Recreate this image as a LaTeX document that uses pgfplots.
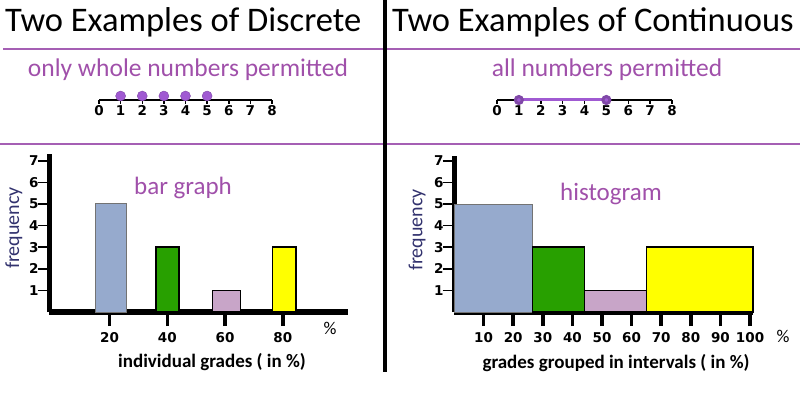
\documentclass[border=0pt]{standalone}
\usepackage{pgfplots}
\pgfplotsset{compat=1.18}
\usepackage{fontspec}
\setmainfont{Carlito}
\newfontfamily\djv{DejaVu Sans}
\newcommand\numfont{\djv\bfseries\fontsize{13.5bp}{15bp}\selectfont}
\definecolor{sub}{RGB}{160,80,170}
\definecolor{rulec}{RGB}{165,95,180}
\definecolor{dot}{RGB}{160,90,210}
\definecolor{barblue}{RGB}{150,170,205}
\definecolor{bargreen}{RGB}{40,160,0}
\definecolor{barpink}{RGB}{200,165,200}
\definecolor{baryellow}{RGB}{255,255,0}
\definecolor{freq}{RGB}{50,50,110}
\definecolor{tickc}{RGB}{0,0,0}
\pgfplotsset{every axis/.append style={/pgf/number format/assume math mode=true}}
\begin{document}
\begin{tikzpicture}
\useasboundingbox (0bp,0bp) rectangle (800bp,394bp);
% bar graph
\begin{axis}[at={(49bp,82bp)}, anchor=south west, scale only axis, width=299bp, height=157.7bp,
  xmin=-1, xmax=102.6, ymin=0, ymax=7.3, axis lines=left,
  axis line style={-, line width=5bp, black},
  xtick={20,40,60,80}, ytick={1,...,7}, tick align=outside, major tick length=14bp,
  xtick style={line width=3.5bp, tickc}, ytick style={line width=1.5bp, tickc, xshift=2.5bp},
  ticklabel style={font=\numfont}, xticklabel style={yshift=-3bp}, yticklabel style={xshift=7bp}, clip=false]
\addplot[ybar, bar width=10.7, bar shift=0pt, fill=barblue, draw=black!55, line width=1bp] coordinates {(20.5,5)};
\addplot[ybar, bar width=8, bar shift=0pt, fill=bargreen, draw=black, line width=1.5bp] coordinates {(40,3)};
\addplot[ybar, bar width=9.7, bar shift=0pt, fill=barpink, draw=black, line width=1.5bp] coordinates {(60.5,1)};
\addplot[ybar, bar width=8, bar shift=0pt, fill=baryellow, draw=black, line width=1.5bp] coordinates {(80.5,3)};
\end{axis}
% histogram
\begin{axis}[at={(454bp,82bp)}, anchor=south west, scale only axis, width=299bp, height=155.5bp,
  xmin=0, xmax=101, ymin=0, ymax=7.2, axis lines=left,
  axis line style={-, line width=5bp, black},
  xtick={10,20,...,100}, ytick={1,...,7}, tick align=outside, major tick length=14bp,
  xtick style={line width=3.5bp, tickc}, ytick style={line width=1.5bp, tickc, xshift=2.5bp},
  ticklabel style={font=\numfont}, xticklabel style={yshift=-3bp}, yticklabel style={xshift=7bp}, clip=false]
\addplot[const plot, fill=barblue, draw=black!55, line width=1bp] coordinates {(0,5)(26.5,5)} \closedcycle;
\addplot[const plot, fill=bargreen, draw=black, line width=1.5bp] coordinates {(26.5,3)(44,3)} \closedcycle;
\addplot[const plot, fill=barpink, draw=black, line width=1.5bp] coordinates {(44,1)(65,1)} \closedcycle;
\addplot[const plot, fill=baryellow, draw=black, line width=1.5bp] coordinates {(65,3)(101,3)} \closedcycle;
\end{axis}
% number line left
\begin{axis}[at={(99bp,294bp)}, anchor=south west, scale only axis, width=173bp, height=20bp,
  xmin=0, xmax=8, ymin=0, ymax=2, hide y axis, axis x line*=bottom,
  x axis line style={-, line width=1.5bp, black},
  xtick={0,...,8}, tick align=outside, major tick length=4bp,
  xtick style={line width=1.5bp, black},
  xticklabel style={font=\numfont, inner sep=1bp}, clip=false]
\addplot[only marks, mark=*, mark size=5bp, mark options={fill=dot, draw=dot!80!black}] coordinates {(1,0.4)(2,0.4)(3,0.4)(4,0.4)(5,0.4)};
\end{axis}
% number line right
\begin{axis}[at={(497bp,294bp)}, anchor=south west, scale only axis, width=175bp, height=20bp,
  xmin=0, xmax=8, ymin=0, ymax=2, hide y axis, axis x line*=bottom,
  x axis line style={-, line width=1.5bp, black},
  xtick={0,...,8}, tick align=outside, major tick length=4bp,
  xtick style={line width=1.5bp, black},
  xticklabel style={font=\numfont, inner sep=1bp}, clip=false]
\addplot[dot, line width=3bp, mark=*, mark size=3.5bp, mark options={fill=dot, draw=dot!80!black}] coordinates {(1,0)(5,0)};
\end{axis}
% rules
\draw[rulec, line width=2.5bp] (3bp,345bp) -- (800bp,345bp);
\draw[rulec, line width=2.5bp] (0bp,250bp) -- (800bp,250bp);
\draw[black, line width=4bp] (385bp,394bp) -- (385bp,22bp);
% titles
\node[anchor=base west, inner sep=0] at (5bp,362bp) {\fontsize{34.5bp}{40bp}\selectfont Two Examples of Discrete};
\node[anchor=base west, inner sep=0] at (392bp,362bp) {\fontsize{34.5bp}{40bp}\selectfont Two Examples of Continuous};
\node[anchor=base, inner sep=0, text=sub] at (188bp,317bp) {\fontsize{25.5bp}{30bp}\selectfont only whole numbers permitted};
\node[anchor=base, inner sep=0, text=sub] at (607bp,317bp) {\fontsize{25.5bp}{30bp}\selectfont all numbers permitted};
% labels
\node[anchor=base, inner sep=0, text=sub] at (183bp,199bp) {\fontsize{25bp}{30bp}\selectfont bar graph};
\node[anchor=base, inner sep=0, text=sub] at (611bp,193bp) {\fontsize{25bp}{30bp}\selectfont histogram};
\node[anchor=base, inner sep=0] at (330bp,59bp) {\fontsize{18bp}{20bp}\selectfont \%};
\node[anchor=base, inner sep=0] at (783bp,51bp) {\fontsize{18bp}{20bp}\selectfont \%};
\node[anchor=base, inner sep=0] at (212bp,27bp) {\fontsize{19bp}{22bp}\selectfont\bfseries individual grades ( in \%)};
\node[anchor=base, inner sep=0] at (616bp,26bp) {\fontsize{19bp}{22bp}\selectfont\bfseries grades grouped in intervals ( in \%)};
\node[rotate=90, inner sep=0, text=freq] at (14bp,166bp) {\fontsize{20bp}{22bp}\selectfont frequency};
\node[rotate=90, inner sep=0, text=freq] at (417bp,164bp) {\fontsize{20bp}{22bp}\selectfont frequency};
\end{tikzpicture}
\end{document}
